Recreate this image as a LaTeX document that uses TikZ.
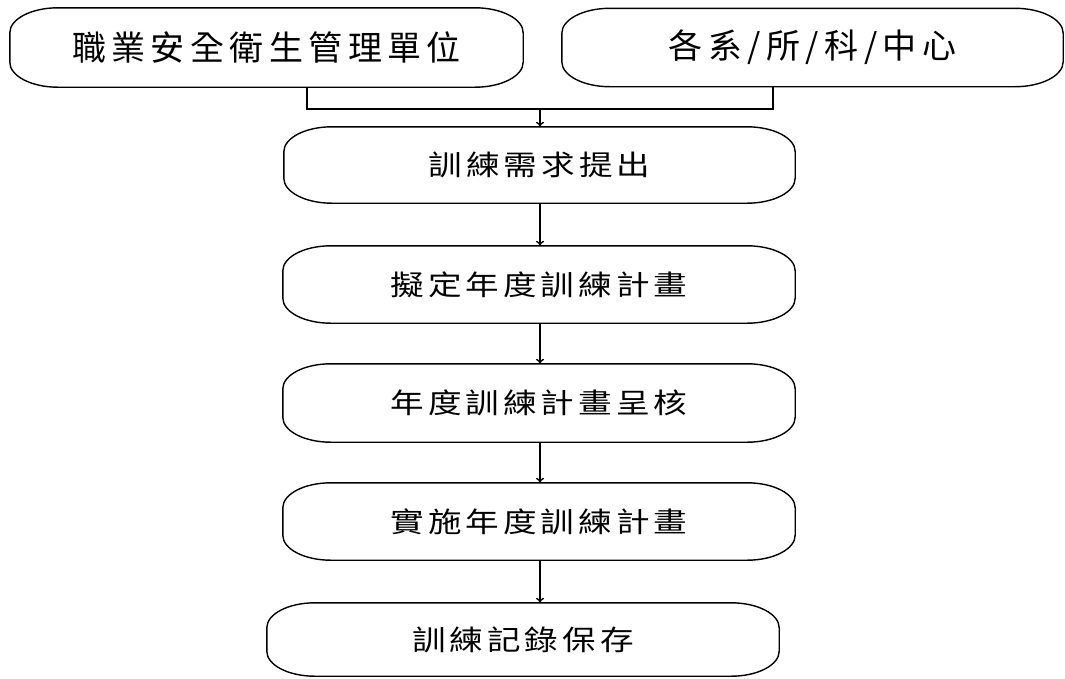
\documentclass[tikz,border=0pt]{standalone}
\usepackage{fontspec}
\usetikzlibrary{arrows.meta}
\newfontfamily\cjkbig[LetterSpace=16]{Noto Sans CJK TC}
\newfontfamily\cjksmall[LetterSpace=12]{Noto Sans CJK TC}
\newcommand\ovaloutline[1]{%
  \draw[outline] ([xshift=48pt]#1.north west) -- ([xshift=-48pt]#1.north east)
    arc[start angle=90,end angle=0,x radius=48pt,y radius=25pt]
    -- ([yshift=25pt]#1.south east)
    arc[start angle=0,end angle=-90,x radius=48pt,y radius=25pt]
    -- ([xshift=48pt]#1.south west)
    arc[start angle=-90,end angle=-180,x radius=48pt,y radius=25pt]
    -- ([yshift=-25pt]#1.north west)
    arc[start angle=180,end angle=90,x radius=48pt,y radius=25pt] -- cycle;}
\begin{document}
\begin{tikzpicture}[x=1pt,y=-1pt,
  outline/.style={draw=black, line width=1.4pt},
  flowbox/.style={inner sep=0pt},
  topbox/.style={flowbox, font=\cjkbig\fontsize{34}{38}\selectfont},
  lowbox/.style={flowbox, font=\cjksmall\fontsize{28}{32}\selectfont},
  arr/.style={line width=1.4pt, -{To[length=5pt,width=8pt]}},
  conn/.style={line width=1.4pt}]
\useasboundingbox (0,0) rectangle (1065,678);
\node[topbox, minimum width=513pt, minimum height=79pt] (b1) at (266.5,47.5) {職業安全衛生管理單位};
\node[topbox, minimum width=501pt, minimum height=78pt] (b2) at (812.5,47.5) {各系/所/科/中心};
\node[lowbox, minimum width=511pt, minimum height=76pt] (b3) at (539.5,165) {\scalebox{1.2}[1]{訓練需求提出}};
\node[lowbox, minimum width=512pt, minimum height=77pt] (b4) at (539,284.5) {\scalebox{1.2}[1]{擬定年度訓練計畫}};
\node[lowbox, minimum width=512pt, minimum height=78pt] (b5) at (539,403) {\scalebox{1.2}[1]{年度訓練計畫呈核}};
\node[lowbox, minimum width=512pt, minimum height=77pt] (b6) at (539,521.5) {\scalebox{1.2}[1]{實施年度訓練計畫}};
\node[lowbox, minimum width=512pt, minimum height=73pt] (b7) at (523,639.5) {\scalebox{1.2}[1]{訓練記錄保存}};
\ovaloutline{b1}\ovaloutline{b2}\ovaloutline{b3}\ovaloutline{b4}
\ovaloutline{b5}\ovaloutline{b6}\ovaloutline{b7}
\coordinate (l) at (307,109);
\coordinate (r) at (773,109);
\coordinate (j) at (540,109);
\draw[conn] (b1.south -| l) -- (l) -- (r) -- (b2.south -| r);
\draw[arr] (j) -- (j |- b3.north);
\draw[arr] (b3.south -| j) -- (j |- b4.north);
\draw[arr] (b4.south -| j) -- (j |- b5.north);
\draw[arr] (b5.south -| j) -- (j |- b6.north);
\draw[arr] (b6.south -| j) -- (j |- b7.north);
\end{tikzpicture}
\end{document}
